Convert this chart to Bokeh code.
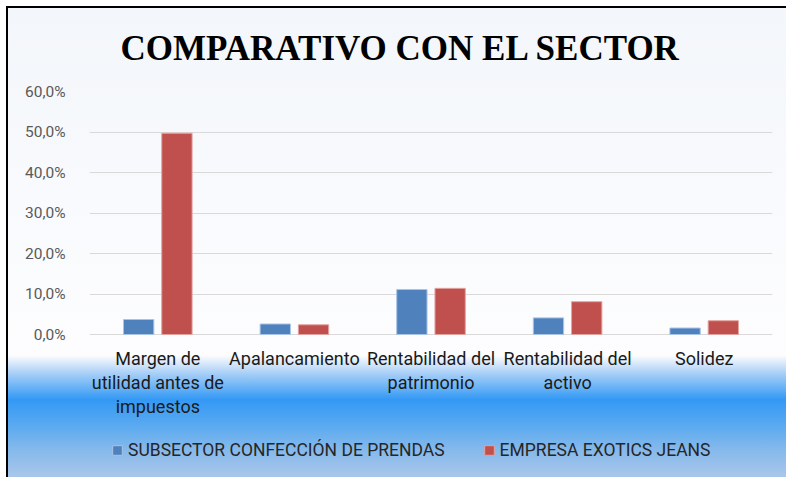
from bokeh.plotting import figure
from bokeh.models import ColumnDataSource, FixedTicker, Legend, LegendItem
from bokeh.core.properties import value
from bokeh.transform import dodge
from bokeh.embed import file_html
from bokeh.resources import INLINE

categories = ["Margen de utilidad antes de impuestos", "Apalancamiento",
              "Rentabilidad del patrimonio", "Rentabilidad del activo", "Solidez"]
cat_labels = ["Margen de\nutilidad antes de\nimpuestos", "Apalancamiento",
              "Rentabilidad del\npatrimonio", "Rentabilidad del\nactivo", "Solidez"]
subsector = [3.7, 2.6, 11.1, 4.1, 1.6]
empresa = [49.7, 2.4, 11.4, 8.1, 3.4]
y_ticks = [0, 10, 20, 30, 40, 50, 60]
y_tick_labels = ["0,0%", "10,0%", "20,0%", "30,0%", "40,0%", "50,0%", "60,0%"]
series_names = ["SUBSECTOR CONFECCIÓN DE PRENDAS", "EMPRESA EXOTICS JEANS"]

# layout (pixels)
W, H = 786, 477
FRAME_TOP, ZERO_Y = 91, 334
upp = 60 / (ZERO_Y - FRAME_TOP)          # data units per pixel
y_bottom = -(H - ZERO_Y) * upp

FONT = "Roboto"

src = ColumnDataSource(dict(cat=categories, sub=subsector, emp=empresa))

p = figure(x_range=categories, y_range=(y_bottom, 60), width=W, height=H,
           output_backend="svg", toolbar_location=None,
           min_border_left=89, min_border_right=14, min_border_top=FRAME_TOP, min_border_bottom=0)
grad = ("linear-gradient(to bottom, #f3f6fa 0%, #f8fafd 40%, #fdfdfe 72.8%, #e3eefb 74%, "
        "#a3cdf7 76.8%, #3399f5 82.1%, #5aaaf0 87.6%, #82b8ec 92.2%, #a9c7e9 98.3%, #abc8e9 100%)")
p.styles = {"background": ("linear-gradient(#000,#000) 6px 6px / 2px 100% no-repeat, "
                           "linear-gradient(#000,#000) 6px 6px / 100% 2px no-repeat, "
                           + grad + " 8px 8px / 100% 100% no-repeat, #ffffff")}
p.background_fill_alpha = 0
p.border_fill_alpha = 0
p.outline_line_color = None

p.title.text = "COMPARATIVO CON EL SECTOR"
p.title.text_font = "Liberation Serif"
p.title.text_font_style = "bold"
p.title.text_font_size = "35px"
p.title.text_color = "#000000"
p.title.align = "left"
p.title.offset = 31
p.title.standoff = 48

r1 = p.vbar(x=dodge("cat", -0.14, range=p.x_range), top="sub", width=0.222, source=src,
            fill_color="#4f81bd", line_color="#a9c4e6", line_width=1)
r2 = p.vbar(x=dodge("cat", 0.14, range=p.x_range), top="emp", width=0.222, source=src,
            fill_color="#c0504d", line_color="#e3a3a1", line_width=1)

p.yaxis.ticker = FixedTicker(ticks=y_ticks)
p.yaxis.major_label_overrides = {t: l for t, l in zip(y_ticks, y_tick_labels)}
p.yaxis.axis_line_color = None
p.yaxis.major_tick_line_color = None
p.yaxis.minor_tick_line_color = None
p.yaxis.major_label_text_font = FONT
p.yaxis.major_label_text_font_size = "15.5px"
p.yaxis.major_label_text_color = "#595959"
p.yaxis.major_label_standoff = 18
p.xaxis.visible = False

p.xgrid.grid_line_color = None
p.ygrid.grid_line_color = "#d9d9d9"
p.ygrid.grid_line_width = 1

# category labels (multi-line, drawn inside extended frame)
lx, ly, lt = [], [], []
for c, lab in zip(categories, cat_labels):
    for k, line in enumerate(lab.split("\n")):
        lx.append(c)
        ly.append(-(24 + 24.2 * k) * upp)
        lt.append(line)
p.text(x=lx, y=ly, text=lt, text_font=value(FONT), text_font_size="18px",
       text_color="#1a1a1a", text_align="center", text_baseline="middle")

legend = Legend(items=[LegendItem(label=series_names[0], renderers=[r1]),
                       LegendItem(label=series_names[1], renderers=[r2])],
                orientation="horizontal", location=(22, 17),
                background_fill_alpha=0, border_line_color=None,
                label_text_font=FONT, label_text_font_size="17.5px", label_text_color="#262626",
                glyph_width=12, glyph_height=12, label_height=20, spacing=38, padding=0, margin=0,
                label_standoff=5)
p.add_layout(legend)

open("out.html", "w").write(file_html(p, INLINE))
